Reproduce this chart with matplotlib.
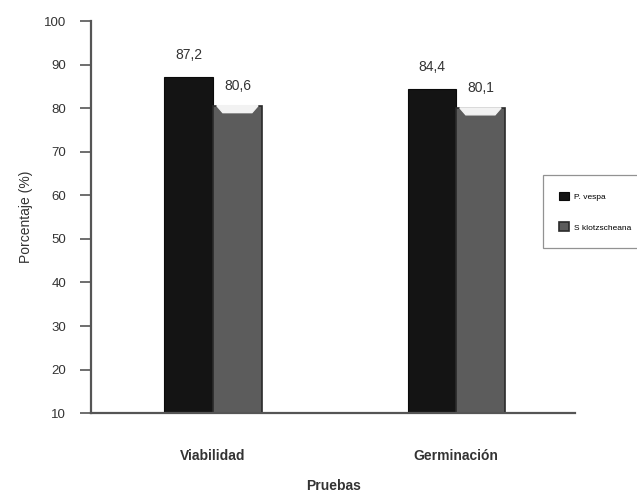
import numpy as np
import matplotlib
matplotlib.use('Agg')
import matplotlib.pyplot as plt

plt.rcParams['font.family'] = ['Liberation Sans', 'DejaVu Sans']

# Datos
pruebas = ['Viabilidad', 'Germinación']
p_vespa = [87.2, 84.4]
s_klotz = [80.6, 80.1]
etiquetas_vespa = ['87,2', '84,4']
etiquetas_klotz = ['80,6', '80,1']
yticks = [10, 20, 30, 40, 50, 60, 70, 80, 90, 100]

fig = plt.figure(figsize=(6.37, 4.93), dpi=100)
ax = fig.add_axes([0.143, 0.162, 0.760, 0.795])

x = np.arange(len(pruebas))
w = 0.2
base = 10

b1 = ax.bar(x - w/2, np.array(p_vespa) - base, w, bottom=base,
            color='#141414', edgecolor='#0a0a0a', linewidth=0.8, label='P. vespa')
b2 = ax.bar(x + w/2, np.array(s_klotz) - base, w, bottom=base,
            color='#5c5c5c', edgecolor='#2a2a2a', linewidth=1.2, label='S klotzscheana')

# brillo en la parte superior de las barras grises
for xi, v in zip(x, s_klotz):
    ax.fill([xi + 0.015, xi + w - 0.015, xi + w - 0.04, xi + 0.04],
            [v, v, v - 1.6, v - 1.6], color='#f2f2f2', zorder=3)

for xi, v, t in zip(x, p_vespa, etiquetas_vespa):
    ax.text(xi - w/2, v + 3.5, t, ha='center', va='bottom', fontsize=10, color='#333333')
for xi, v, t in zip(x, s_klotz, etiquetas_klotz):
    ax.text(xi + w/2, v + 3.0, t, ha='center', va='bottom', fontsize=10, color='#333333')

ax.set_xlim(-0.502, 1.49)
ax.set_ylim(10, 100)
ax.set_yticks(yticks)
ax.tick_params(axis='y', direction='out', length=8, width=1.2, colors='#555555',
               labelcolor='#333333', labelsize=9.5, pad=10)
ax.set_xticks(x)
ax.set_xticklabels(pruebas, fontweight='bold', fontsize=10, color='#333333')
ax.tick_params(axis='x', length=0, pad=26)
ax.set_xlabel('Pruebas', fontweight='bold', fontsize=10, color='#333333', labelpad=11)
ax.set_ylabel('Porcentaje (%)', fontsize=10, color='#333333', labelpad=8)

for s in ['top', 'right']:
    ax.spines[s].set_visible(False)
for s in ['left', 'bottom']:
    ax.spines[s].set_color('#555555')
    ax.spines[s].set_linewidth(1.6)

leg = fig.legend(loc='upper left', bbox_to_anchor=(0.852, 0.645),
                 prop={'family': ['Liberation Sans Narrow', 'Liberation Sans'], 'size': 6},
                 frameon=True, fancybox=False, edgecolor='#777777',
                 handlelength=1.2, handleheight=1.2, labelspacing=2.6,
                 borderpad=2.0, handletextpad=0.5, borderaxespad=0)
leg.get_frame().set_linewidth(0.9)

fig.savefig('out.png', dpi=100)
